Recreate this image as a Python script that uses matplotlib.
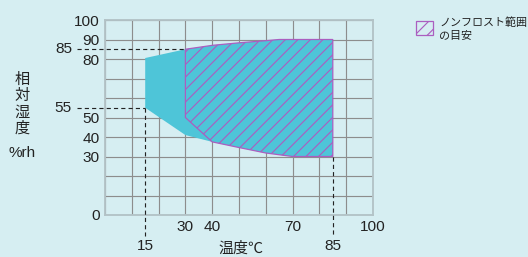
import numpy as np
import matplotlib
matplotlib.use('Agg')
import matplotlib.pyplot as plt
from matplotlib.patches import Rectangle

plt.rcParams['font.family'] = ['Liberation Sans', 'Noto Sans CJK JP', 'DejaVu Sans']
plt.rcParams['hatch.linewidth'] = 0.55
plt.rcParams['lines.scale_dashes'] = False

# dati letti dal grafico
# bordo superiore (temperatura, umidità) da 30 a 85 gradi
top_t = [30, 40, 50, 60, 65, 85]
top_h = [85, 87, 88.3, 89.4, 90, 90]
# bordo inferiore da 85 a 40 gradi
bot_t = [85, 70, 60, 50, 40]
bot_h = [30, 30, 31.8, 34.6, 37.5]
# parte sinistra della zona ciano
left_t = [30, 15, 15]
left_h = [41, 55, 80.5]
# limite sinistro della zona tratteggiata (non-frost)
hatch_left_t = [30]
hatch_left_h = [50]

y_ticks = list(range(0, 101, 10))
y_labels = ['0', '', '', '30', '40', '50', '', '', '80', '90', '100']
x_ticks = list(range(0, 101, 10))
x_labels = ['', '', '', '30', '40', '', '', '70', '', '', '100']
# valori evidenziati con le linee tratteggiate
mark_t = [15, 85]
mark_h = [55, 85]

bg = '#d6eef2'
cyan = '#4ec5d8'
purple = '#ab5ec0'
grid_c = '#8d8d8d'
spine_c = '#b3c3c7'

dpi = 150
fig = plt.figure(figsize=(528 / dpi, 257 / dpi), dpi=dpi, facecolor=bg)
W, H = 528, 257
ax = fig.add_axes([105 / W, 1 - 215 / H, (373 - 105) / W, (215 - 20) / H])
ax.set_facecolor(bg)
ax.set_xlim(0, 100)
ax.set_ylim(0, 100)

# zona ciano (campo di funzionamento)
cyan_t = top_t + bot_t + left_t
cyan_h = top_h + bot_h + left_h
ax.fill(cyan_t, cyan_h, facecolor=cyan, edgecolor='none', zorder=2)

# zona tratteggiata (ノンフロスト)
hat_t = top_t + bot_t + hatch_left_t
hat_h = top_h + bot_h + hatch_left_h
ax.fill(hat_t, hat_h, facecolor='none', edgecolor=purple, hatch='////', lw=0.6, zorder=3)

# griglia
ax.set_xticks(x_ticks)
ax.set_xticklabels(x_labels)
ax.set_yticks(y_ticks)
ax.set_yticklabels(y_labels)
ax.tick_params(length=0, labelsize=7.4, colors='#222222', pad=2.6)
ax.grid(True, color=grid_c, lw=0.55, zorder=1)
ax.set_axisbelow(True)
for s in ax.spines.values():
    s.set_color(spine_c)
    s.set_linewidth(0.9)
    s.set_zorder(4)

# linee tratteggiate per 15 / 85 gradi e 55 / 85 %
dash = dict(color='#222222', lw=0.55, dashes=(2.0, 1.5), clip_on=False, zorder=5)
ax.plot([-10.5, mark_t[0]], [mark_h[0], mark_h[0]], **dash)
ax.plot([-10.5, top_t[0]], [mark_h[1], mark_h[1]], **dash)
ax.plot([mark_t[0], mark_t[0]], [mark_h[0], -10.8], **dash)
ax.plot([mark_t[1], mark_t[1]], [bot_h[0], -11.5], **dash)
for h in mark_h:
    ax.text(-12.3, h, str(h), ha='right', va='center', fontsize=7.4, color='#222222', clip_on=False)
for t in mark_t:
    ax.text(t, -12.2, str(t), ha='center', va='top', fontsize=7.4, color='#222222', clip_on=False)

# etichette degli assi
jp = ['Noto Sans CJK JP', 'DejaVu Sans']
fig.text(22 / W, 1 - 104 / H, '相\n対\n湿\n度', ha='center', va='center', fontsize=7.3,
         family=jp, color='#222222', linespacing=0.95)
fig.text(22 / W, 1 - 153 / H, '%rh', ha='center', va='center', fontsize=7.3, color='#222222')
fig.text(241 / W, 1 - 249 / H, '温度℃', ha='center', va='center', fontsize=7.2,
         family=jp, color='#222222')

# legenda
fig.patches.append(Rectangle((416 / W, 1 - 35 / H), 17 / W, 14 / H, transform=fig.transFigure,
                             facecolor='none', edgecolor=purple, hatch='////', lw=0.6))
fig.text(439 / W, 1 - 29 / H, 'ノンフロスト範囲\nの目安', ha='left', va='center', fontsize=5.3,
         family=jp, color='#222222', linespacing=1.45)

fig.savefig('out.png', dpi=dpi, facecolor=bg)
